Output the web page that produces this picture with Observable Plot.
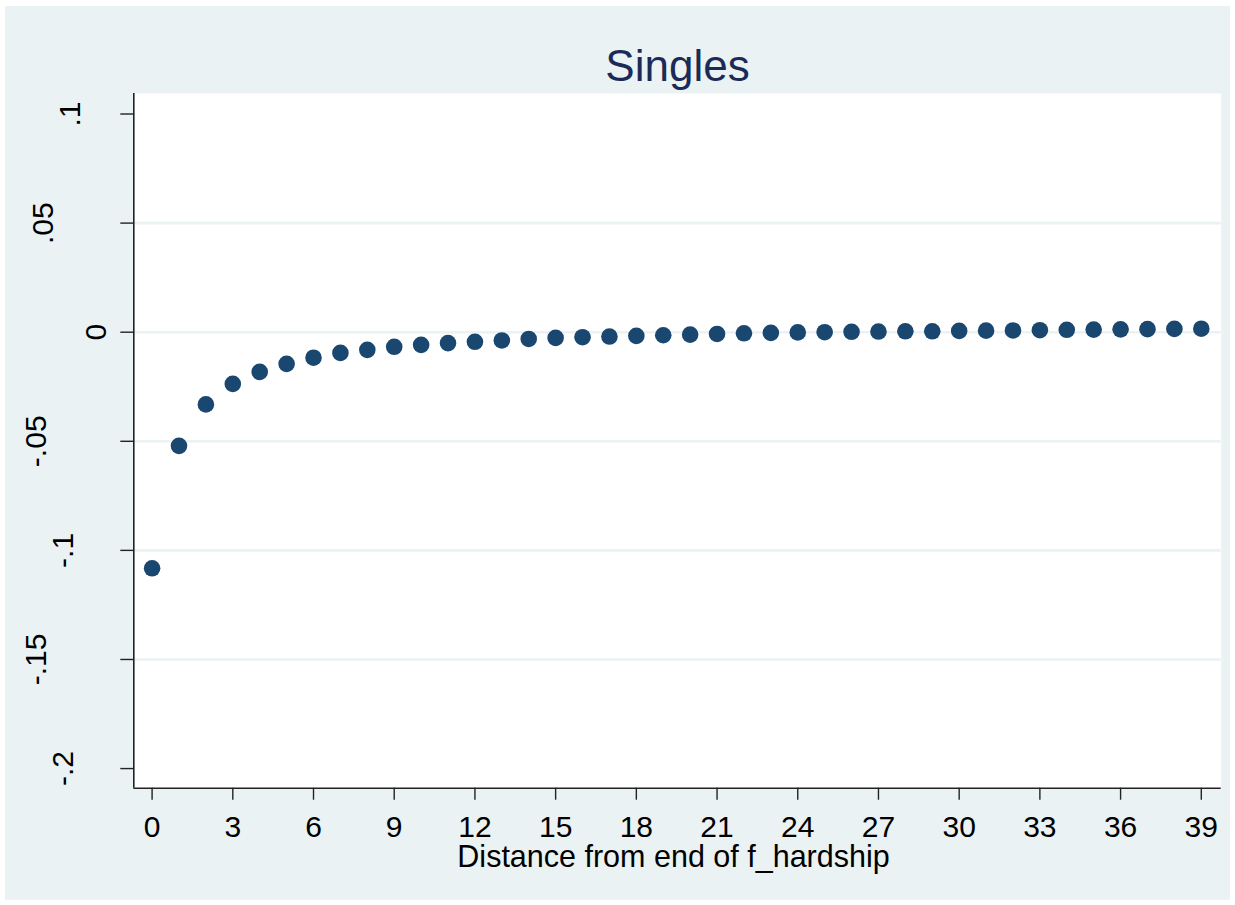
<!DOCTYPE html>
<html>
<head>
<meta charset="utf-8">
<script src="https://cdn.jsdelivr.net/npm/d3@7"></script>
<script src="https://cdn.jsdelivr.net/npm/@observablehq/plot@0.6"></script>
<style>
  html, body { margin: 0; padding: 0; background: #ffffff; }
  #chart { width: 1235px; height: 905px; }
  svg { display: block; }
</style>
</head>
<body>
<div id="chart"></div>
<script>
// ---- data ----
const titleText = "Singles";
const xLabel = "Distance from end of f_hardship";
const distance = [0,1,2,3,4,5,6,7,8,9,10,11,12,13,14,15,16,17,18,19,20,21,22,23,24,25,26,27,28,29,30,31,32,33,34,35,36,37,38,39];
const effect = [-0.1082,-0.0521,-0.0331,-0.0237,-0.0182,-0.0145,-0.0117,-0.0095,-0.0081,-0.0067,
                -0.0058,-0.0050,-0.0044,-0.0038,-0.0031,-0.0026,-0.0023,-0.0020,-0.0017,-0.0014,
                -0.0011,-0.0008,-0.0005,-0.0003,-0.0001,0.0000,0.0002,0.0003,0.0004,0.0004,
                0.0006,0.0007,0.0008,0.0009,0.0011,0.0012,0.0013,0.0014,0.0015,0.0016];
const xTicks = [0,3,6,9,12,15,18,21,24,27,30,33,36,39];
const yTicks = [0.1,0.05,0,-0.05,-0.1,-0.15,-0.2];
const yTickLabels = [".1",".05","0","-.05","-.1","-.15","-.2"];
const yGrid = [0.05,0,-0.05,-0.1,-0.15];

const points = distance.map((d, i) => ({distance: d, effect: effect[i]}));

// ---- styles ----
const font = "'Liberation Sans', Arial, Helvetica, sans-serif";
const navy = "#1a476f";
const axisColor = "#222222";
const bg = "#eaf2f3";
const xDomain = [-0.68, 39.74];
const yDomain = [-0.209, 0.1094];
const marginLeft = 133.3;

// Stata-like placement of vertical y labels (depends on label length)
function labelCenter(lbl) {
  let w = 0;
  for (const c of lbl) w += (c === ".") ? 26 : (c === "-") ? 7.5 : 27;
  return 123 - w;
}

const yLabelMarks = yTicks.map((t, i) =>
  Plot.text([t], {
    y: d => d,
    frameAnchor: "left",
    dx: labelCenter(yTickLabels[i]) - marginLeft,
    text: () => yTickLabels[i],
    rotate: -90,
    textAnchor: "middle",
    lineAnchor: "middle",
    fontSize: 30,
    fill: "#000"
  })
);

const chart = Plot.plot({
  width: 1235,
  height: 905,
  marginLeft: marginLeft,
  marginRight: 14.3,
  marginTop: 93,
  marginBottom: 117.3,
  style: {background: "transparent", fontFamily: font, overflow: "visible"},
  x: {domain: xDomain, axis: null, label: null},
  y: {domain: yDomain, axis: null, label: null},
  marks: [
    Plot.frame({fill: "#ffffff", stroke: "none"}),
    Plot.gridY(yGrid, {stroke: bg, strokeOpacity: 1, strokeWidth: 2.6}),
    Plot.ruleX([xDomain[0]], {stroke: axisColor, strokeWidth: 1.6}),
    Plot.ruleY([yDomain[0]], {stroke: axisColor, strokeWidth: 1.6}),
    Plot.axisY({ticks: yTicks, tickSize: 13, tickFormat: () => "", label: null, stroke: axisColor, strokeWidth: 1.4}),
    Plot.axisX({ticks: xTicks, tickSize: 12, tickPadding: 15, fontSize: 30, label: null, stroke: axisColor, strokeWidth: 1.4, fill: "#000", tickFormat: d => String(d)}),
    ...yLabelMarks,
    Plot.text([titleText], {frameAnchor: "top", dx: 0, dy: -13, lineAnchor: "bottom", fontSize: 44, fill: "#1c2a58", text: d => d}),
    Plot.text([xLabel], {frameAnchor: "bottom", dx: -4, dy: 78.3, lineAnchor: "bottom", fontSize: 30.5, fill: "#000", text: d => d}),
    Plot.dot(points, {x: "distance", y: "effect", r: 8.3, fill: navy, stroke: "none"})
  ]
});

d3.select(chart).insert("rect", ":first-child")
  .attr("x", 5).attr("y", 6).attr("width", 1225).attr("height", 894)
  .attr("fill", bg);

document.getElementById("chart").appendChild(chart);
</script>
</body>
</html>
